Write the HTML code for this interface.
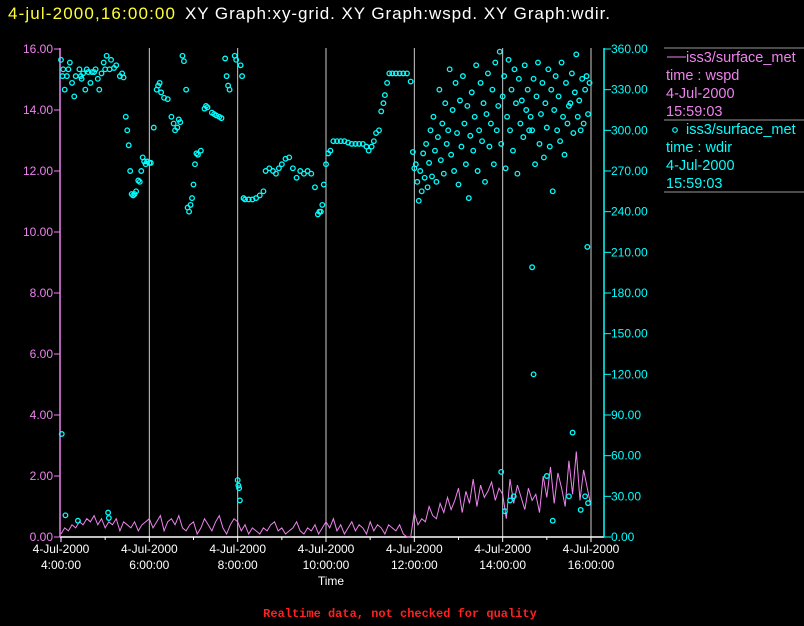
<!DOCTYPE html>
<html><head><meta charset="utf-8"><style>
html,body{margin:0;padding:0;background:#000;width:804px;height:626px;overflow:hidden}
svg{display:block;font-family:"Liberation Sans",sans-serif}
</style></head><body>
<svg id="chart" width="804" height="626" viewBox="0 0 804 626" xmlns="http://www.w3.org/2000/svg">
<rect width="804" height="626" fill="#000"/>
<text x="8" y="19" fill="#ffff33" font-size="17" textLength="167" lengthAdjust="spacing">4-jul-2000,16:00:00</text>
<text x="185" y="19" fill="#fff" font-size="17" textLength="425" lengthAdjust="spacing">XY Graph:xy-grid.  XY Graph:wspd.  XY Graph:wdir.</text>
<g id="grid"></g><g id="axes"></g><g id="series"></g>
<g>
<line x1="664" y1="48" x2="804" y2="48" stroke="#999"/>
<line x1="664" y1="120" x2="804" y2="120" stroke="#999"/>
<line x1="664" y1="192" x2="804" y2="192" stroke="#999"/>
<line x1="667" y1="57" x2="686" y2="57" stroke="#ee82ee"/>
<text x="686" y="62" fill="#ee82ee" font-size="14.5">iss3/surface_met</text>
<text x="666" y="80" fill="#ee82ee" font-size="14.5">time : wspd</text>
<text x="666" y="98" fill="#ee82ee" font-size="14.5">4-Jul-2000</text>
<text x="666" y="116" fill="#ee82ee" font-size="14.5">15:59:03</text>
<circle cx="675" cy="130" r="2.3" fill="none" stroke="#0ff" stroke-width="1.2"/>
<text x="686" y="134" fill="#0ff" font-size="14.5">iss3/surface_met</text>
<text x="666" y="152" fill="#0ff" font-size="14.5">time : wdir</text>
<text x="666" y="170" fill="#0ff" font-size="14.5">4-Jul-2000</text>
<text x="666" y="188" fill="#0ff" font-size="14.5">15:59:03</text>
</g>
<text x="331" y="585" fill="#fff" font-size="12" text-anchor="middle">Time</text>
<text x="400" y="617" fill="#ff2020" font-size="12" font-weight="bold" font-family="Liberation Mono, monospace" text-anchor="middle">Realtime data, not checked for quality</text>
</svg>
<script>
const NS="http://www.w3.org/2000/svg";
const leftTicks=[0,2,4,6,8,10,12,14,16];
const leftTickLabels=["0.00","2.00","4.00","6.00","8.00","10.00","12.00","14.00","16.00"];
const rightTicks=[0,30,60,90,120,150,180,210,240,270,300,330,360];
const rightTickLabels=["0.00","30.00","60.00","90.00","120.00","150.00","180.00","210.00","240.00","270.00","300.00","330.00","360.00"];
const xTicks=[0,120,240,360,480,600,720];
const xTickLabels=["4:00:00","6:00:00","8:00:00","10:00:00","12:00:00","14:00:00","16:00:00"];
// wind speed every 5 minutes from 4:00
const wspd=[0.1,0.3,0.2,0.4,0.3,0.5,0.4,0.6,0.5,0.7,0.4,0.6,0.3,0.5,0.4,0.6,0.2,0.5,0.4,0.3,0.5,0.2,0.4,0.5,
0.6,0.3,0.5,0.7,0.2,0.5,0.6,0.4,0.7,0.3,0.2,0.4,0.5,0.1,0.3,0.6,0.4,0.2,0.5,0.7,0.3,0.1,0.4,0.6,
0.5,0.2,0.4,0.1,0.3,0.2,0.1,0.3,0.2,0.4,0.5,0.2,0.3,0.1,0.2,0.3,0.5,0.2,0.1,0.3,0.2,0.4,0.1,0.3,
0.5,0.3,0.6,0.2,0.4,0.1,0.3,0.5,0.2,0.4,0.3,0.1,0.5,0.2,0.4,0.3,0.1,0.4,0.3,0.2,0.4,0.1,0.0,0.0,
0.8,0.4,0.6,0.5,1.0,0.7,0.6,1.1,0.8,1.3,0.9,1.2,1.6,0.8,1.5,1.1,1.9,1.0,1.7,1.3,1.5,1.8,1.2,1.6,
1.4,0.6,1.9,1.1,1.7,1.3,0.9,1.6,1.2,1.4,0.8,2.0,1.3,2.3,1.1,2.1,1.6,1.0,2.5,1.4,2.8,1.2,2.2,1.6,1.0];
// wind direction, 4:00-12:00: minutes after 4:00 and degrees
const wdirMinA=[0,1,2,3,5,6,8,10,12,15,
18,20,23,25,27,28,30,33,35,37,
40,42,45,47,50,52,55,58,60,62,
64,65,66,68,72,75,80,83,85,88,
90,92,94,96,98,100,102,105,107,109,
111,113,115,117,120,122,126,130,132,134,
136,140,145,150,153,155,158,160,162,165,
167,170,172,174,176,178,180,182,184,186,
190,195,197,199,205,208,211,215,218,223,
225,227,229,240,241,242,243,236,238,244,
246,248,250,255,260,265,270,275,278,283,
288,292,296,300,305,310,315,320,325,330,
335,340,345,349,351,353,355,357,360,363,
366,370,375,380,385,390,395,400,405,410,
415,418,422,425,428,432,435,438,440,443,
446,450,455,460,465,470,475,478];
const wdirDegA=[352,76,340,345,330,16,340,345,350,335,
325,340,12,345,340,338,342,330,345,343,
335,343,343,345,338,330,342,350,345,355,
18,14,345,352,346,348,340,342,339,310,
300,289,270,253,252,253,255,263,262,270,
280,277,275,277,276,276,302,330,333,335,
328,324,323,310,305,300,302,308,306,355,
351,330,243,240,245,250,260,275,283,282,
285,316,318,317,313,312,311,310,309,353,
340,333,330,42,38,36,27,355,352,348,
340,250,249,249,249,250,252,255,270,272,
270,268,272,275,279,280,272,265,270,268,
270,268,258,238,240,240,245,260,275,283,
285,292,292,292,292,291,290,290,290,290,
288,285,288,292,298,300,314,320,326,335,
342,342,342,342,342,342,336,284];
// wind direction, 12:00-16:00
const wdirMinB=[480,482,484,486,488,490,492,494,496,498,
500,502,504,506,508,510,512,514,516,518,
520,522,524,526,528,530,532,534,536,538,
540,542,544,546,548,550,552,554,556,558,
560,562,564,566,568,570,572,574,576,578,
580,582,584,586,588,590,592,594,596,598,
600,602,604,606,608,610,612,614,616,618,
620,622,624,626,628,630,632,634,636,638,
640,642,644,646,648,650,652,654,656,658,
660,662,664,666,668,670,672,674,676,678,
680,682,684,686,688,690,692,694,696,698,
700,702,704,706,708,710,712,714,716,718,
598,603,610,615,640,642,660,668,690,695,
706,712,715,716];
const wdirDegB=[272,275,262,248,270,255,283,265,290,258,
276,300,266,310,285,262,295,330,278,305,
268,320,290,300,345,282,315,270,335,298,
260,322,288,340,305,275,318,250,296,328,
285,310,348,270,300,335,292,320,262,312,
342,288,305,330,275,350,300,318,358,290,
325,340,272,310,352,300,330,285,345,320,
268,338,305,322,295,348,315,330,300,310,
300,338,275,325,350,290,312,335,280,320,
302,345,288,330,255,315,340,300,325,292,
350,310,282,335,305,318,320,342,298,328,
356,310,322,300,338,305,330,340,312,335,
48,19,27,30,199,120,45,12,30,77,
20,30,214,25];
const X=m=>61+m*530/720;
const YL=v=>537-v*30.5;
const YR=v=>537-v*488/360;
function el(tag,attrs,parent){const e=document.createElementNS(NS,tag);for(const k in attrs)e.setAttribute(k,attrs[k]);parent.appendChild(e);return e;}
const grid=document.getElementById('grid'),axes=document.getElementById('axes'),series=document.getElementById('series');
xTicks.forEach((t,i)=>{
 if(i>0){const g=el('line',{x1:X(t),x2:X(t),y1:48,y2:537,stroke:'#ccc','stroke-width':1},grid);
 
 }
 const tk=el('line',{x1:X(t),x2:X(t),y1:537,y2:542,stroke:'#fff'},axes);
 
 
 if(i<xTicks.length-1){const mt=el('line',{x1:X(t+60),x2:X(t+60),y1:537,y2:540,stroke:'#fff'},axes);
 
 }
 const a=el('text',{x:X(t),y:553,fill:'#fff','font-size':12,'text-anchor':'middle'},axes);a.textContent='4-Jul-2000';
 
 
 const b=el('text',{x:X(t),y:569,fill:'#fff','font-size':12,'text-anchor':'middle'},axes);b.textContent=xTickLabels[i];
 
 
});
const xa=el('line',{x1:60,x2:604,y1:537,y2:537,stroke:'#fff','stroke-width':1.5},axes);


const la=el('line',{x1:60,x2:60,y1:48,y2:537,stroke:'#ee82ee','stroke-width':1.5},axes);


leftTicks.forEach((v,i)=>{
 el('line',{x1:54,x2:60,y1:YL(v),y2:YL(v),stroke:'#ee82ee'},axes);
 const t=el('text',{x:53,y:YL(v)+4,fill:'#ee82ee','font-size':12,'text-anchor':'end'},axes);t.textContent=leftTickLabels[i];
 
 
});
const ra=el('line',{x1:604,x2:604,y1:48,y2:537,stroke:'#0ff','stroke-width':1.5},axes);


rightTicks.forEach((v,i)=>{
 el('line',{x1:604,x2:611,y1:YR(v),y2:YR(v),stroke:'#0ff'},axes);
 const t=el('text',{x:611,y:YR(v)+4,fill:'#0ff','font-size':12},axes);t.textContent=rightTickLabels[i];
 
 
});
const pts=wspd.map((v,i)=>X(i*5).toFixed(1)+','+YL(v).toFixed(1)).join(' ');
const line=el('polyline',{points:pts,fill:'none',stroke:'#ee82ee','stroke-width':1},series);


function drawPts(mins,degs){
 const n=Math.min(mins.length,degs.length);
 for(let i=0;i<n;i++){
  const c=el('circle',{cx:X(mins[i]),cy:YR(degs[i]),r:2.3,fill:'none',stroke:'#0ff','stroke-width':1.3},series);
  
  
 }
}
drawPts(wdirMinA,wdirDegA);
drawPts(wdirMinB,wdirDegB);
</script>
</body></html>
